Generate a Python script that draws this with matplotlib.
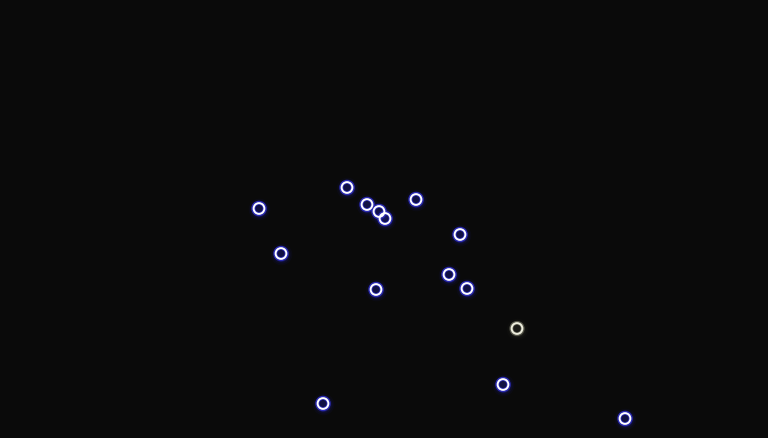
import matplotlib
matplotlib.use("Agg")
import matplotlib.pyplot as plt
import numpy as np

# data (x, y in chart units; y measured upward)
xs = [259, 347, 367, 379, 385, 416, 460, 281, 376, 449, 467, 503, 323, 625]
ys = [229.5, 250.5, 233.5, 226.5, 219.5, 238.5, 203.5, 184.5, 148.5, 163.5, 149.5, 53.5, 34.5, 19.5]
hx = [517]
hy = [109.5]

bg = "#0a0a0a"
fig = plt.figure(figsize=(7.68, 4.38), dpi=100, facecolor=bg)
ax = fig.add_axes([0, 0, 1, 1])
ax.set_facecolor(bg)
ax.set_xlim(0, 768)
ax.set_ylim(0, 438)
ax.axis("off")

# glow layers
for s, a in [(240, 0.05), (170, 0.09), (120, 0.16)]:
    ax.scatter(xs, ys, s=s, color="#2a2ae0", alpha=a, linewidths=0, zorder=2)
    ax.scatter(hx, hy, s=s, color="#8a8a70", alpha=a * 0.5, linewidths=0, zorder=2)
# rings
ax.scatter(xs, ys, s=66, facecolors="none", edgecolors="#2a2ab0", linewidths=3.0, zorder=3)
ax.scatter(xs, ys, s=60, facecolors="none", edgecolors="white", linewidths=1.4, zorder=4)
ax.scatter(hx, hy, s=66, facecolors="none", edgecolors="#55554a", linewidths=2.8, zorder=3)
ax.scatter(hx, hy, s=60, facecolors="none", edgecolors="#eeeedd", linewidths=1.4, zorder=4)

fig.savefig("out.png", dpi=100, facecolor=bg)
